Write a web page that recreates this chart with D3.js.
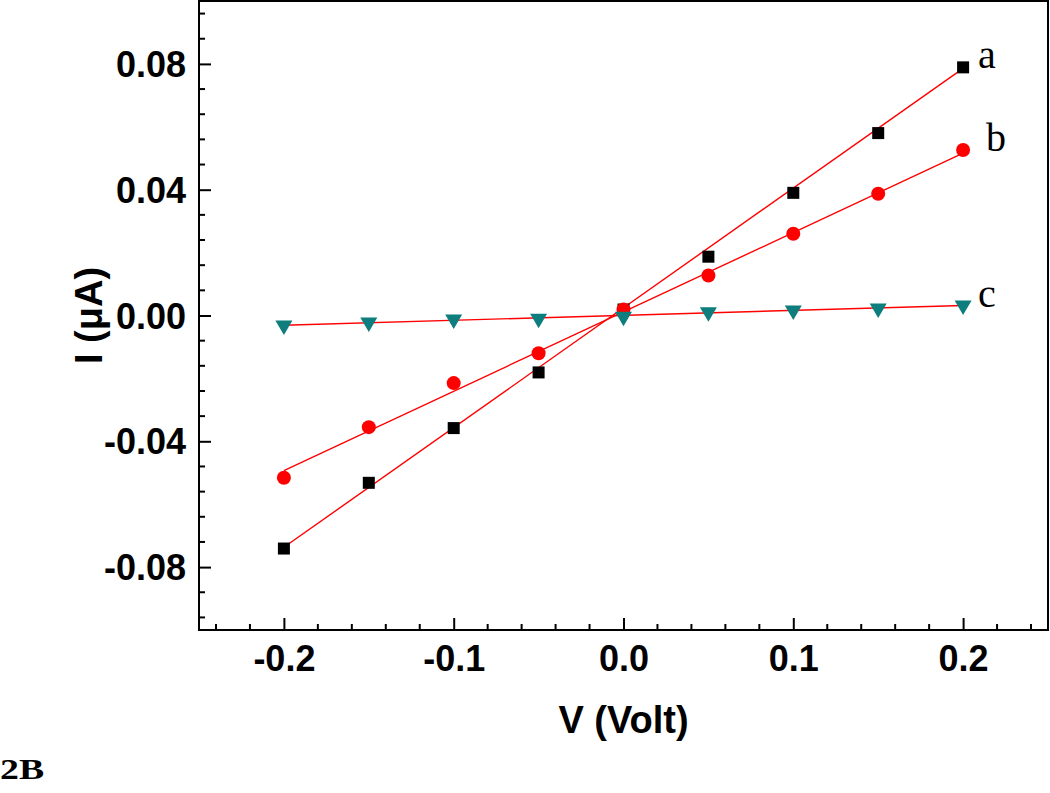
<!DOCTYPE html>
<html>
<head>
<meta charset="utf-8">
<script src="https://cdn.jsdelivr.net/npm/d3@7"></script>
<style>
  html, body { margin: 0; padding: 0; background: #fff; }
  svg { display: block; }
</style>
</head>
<body>
<svg id="chart" width="1050" height="793"></svg>
<script>
// ---- data ----
const voltage = [-0.2, -0.15, -0.1, -0.05, 0, 0.05, 0.1, 0.15, 0.2];
const currentA = [-0.0741, -0.0532, -0.0358, -0.0181, 0.0019, 0.0187, 0.0390, 0.0580, 0.0789];
const currentB = [-0.0516, -0.0355, -0.0215, -0.0120, 0.0019, 0.0127, 0.0260, 0.0387, 0.0526];
const currentC = [-0.0032, -0.0022, -0.0013, -0.0010, -0.0004, 0.0010, 0.0016, 0.0022, 0.0032];
// linear fit lines (endpoints)
const fitX = [-0.2, 0.2];
const fitA = [-0.0737, 0.0786];
const fitB = [-0.0493, 0.0516];
const fitC = [-0.0031, 0.0032];
const seriesLabels = ["a", "b", "c"];
const xTicks = [-0.2, -0.1, 0.0, 0.1, 0.2];
const yTicks = [-0.08, -0.04, 0.00, 0.04, 0.08];
const xDomain = [-0.25, 0.25];
const yDomain = [-0.1, 0.1];

// ---- layout ----
const svg = d3.select("#chart");
const L = 199, R = 1048, T = 1, B = 630;
const x = d3.scaleLinear().domain(xDomain).range([L, R]);
const y = d3.scaleLinear().domain(yDomain).range([B, T]);

const sans = "'Liberation Sans', Arial, sans-serif";
const serif = "'Liberation Serif', 'Times New Roman', serif";

// minor ticks
const xMinor = d3.range(-0.24, 0.2401, 0.02).filter(v => !xTicks.some(t => Math.abs(t - v) < 1e-6));
const yMinor = d3.range(-0.096, 0.0961, 0.008).filter(v => !yTicks.some(t => Math.abs(t - v) < 1e-6));

const fmtX = d => d3.format(".1f")(d).replace("\u2212", "-");
const fmtY = d => d3.format(".2f")(d).replace("\u2212", "-");

const gx = svg.append("g").attr("transform", `translate(0,${B})`);
gx.call(d3.axisBottom(x).tickValues(xTicks).tickSize(-12).tickFormat(fmtX))
  .call(g => g.select(".domain").remove());
gx.selectAll(".tick line").attr("stroke", "#000").attr("stroke-width", 2);
gx.selectAll(".tick text").attr("font-family", sans).attr("font-weight", "bold").attr("font-size", 36)
  .attr("fill", "#000").attr("dy", "0.71em").attr("y", 15);
gx.selectAll("line.minor").data(xMinor).enter().append("line").attr("class", "minor")
  .attr("x1", d => x(d)).attr("x2", d => x(d)).attr("y1", 0).attr("y2", -6)
  .attr("stroke", "#000").attr("stroke-width", 2);

const gy = svg.append("g").attr("transform", `translate(${L},0)`);
gy.call(d3.axisLeft(y).tickValues(yTicks).tickSize(-12).tickFormat(fmtY))
  .call(g => g.select(".domain").remove());
gy.selectAll(".tick line").attr("stroke", "#000").attr("stroke-width", 2);
gy.selectAll(".tick text").attr("font-family", sans).attr("font-weight", "bold").attr("font-size", 36)
  .attr("fill", "#000").attr("x", -13).attr("dy", "0.35em");
gy.selectAll("line.minor").data(yMinor).enter().append("line").attr("class", "minor")
  .attr("y1", d => y(d)).attr("y2", d => y(d)).attr("x1", 0).attr("x2", 6)
  .attr("stroke", "#000").attr("stroke-width", 2);

// frame
svg.append("rect").attr("x", L).attr("y", T).attr("width", R - L).attr("height", B - T)
  .attr("fill", "none").attr("stroke", "#000").attr("stroke-width", 2);

// fit lines
const line = d3.line().x(d => x(d[0])).y(d => y(d[1]));
[fitA, fitB, fitC].forEach(f => {
  svg.append("path").attr("d", line(fitX.map((v, i) => [v, f[i]])))
    .attr("fill", "none").attr("stroke", "#ff0000").attr("stroke-width", 1.4);
});

// markers
svg.append("g").selectAll("rect").data(voltage.map((v, i) => [v, currentA[i]])).enter().append("rect")
  .attr("x", d => x(d[0]) - 6).attr("y", d => y(d[1]) - 6).attr("width", 12).attr("height", 12).attr("fill", "#000");
svg.append("g").selectAll("circle").data(voltage.map((v, i) => [v, currentB[i]])).enter().append("circle")
  .attr("cx", d => x(d[0])).attr("cy", d => y(d[1])).attr("r", 7).attr("fill", "#ff0000");
svg.append("g").selectAll("path").data(voltage.map((v, i) => [v, currentC[i]])).enter().append("path")
  .attr("transform", d => `translate(${x(d[0])},${y(d[1])})`)
  .attr("d", "M-8.5,-5 L8.5,-5 L0,9.5 Z").attr("fill", "#0d7d7d");

// series labels
const labelPos = [[0.2, currentA[8]], [0.2, currentB[8]], [0.2, currentC[8]]];
svg.append("g").selectAll("text").data(seriesLabels).enter().append("text")
  .attr("x", (d, i) => x(labelPos[i][0]) + (i === 1 ? 23 : 15))
  .attr("y", (d, i) => y(labelPos[i][1]) + (i === 2 ? 2 : 1))
  .attr("font-family", serif).attr("font-size", 40).attr("fill", "#000")
  .text(d => d);

// axis titles
svg.append("text").attr("x", (L + R) / 2).attr("y", 733).attr("text-anchor", "middle")
  .attr("font-family", sans).attr("font-weight", "bold").attr("font-size", 38).attr("fill", "#000")
  .text("V (Volt)");
svg.append("text").attr("transform", `translate(102,${(T + B) / 2}) rotate(-90)`).attr("text-anchor", "middle")
  .attr("font-family", sans).attr("font-weight", "bold").attr("font-size", 38).attr("fill", "#000")
  .text("I (μA)");

// panel label
svg.append("text").attr("transform", "translate(0,779) scale(1.26,1)")
  .attr("font-family", serif).attr("font-weight", "bold").attr("font-size", 30).attr("fill", "#000")
  .text("2B");
</script>
</body>
</html>
